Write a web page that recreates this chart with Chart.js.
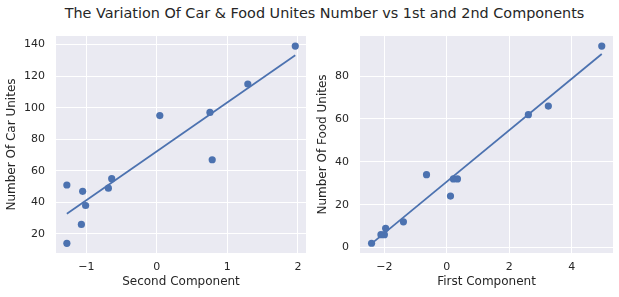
<!DOCTYPE html>
<html>
<head>
<meta charset="utf-8">
<script src="https://cdn.jsdelivr.net/npm/chart.js@4/dist/chart.umd.min.js"></script>
<style>
  html, body { margin: 0; padding: 0; background: #ffffff; }
  body { width: 619px; height: 297px; position: relative; overflow: hidden; font-family: "DejaVu Sans", sans-serif; }
  #title { position: absolute; top: 5px; left: 324.5px; transform: translateX(-50%); white-space: nowrap;
           font-size: 14.4px; line-height: 17px; color: #262626; }
  canvas { position: absolute; top: 0; }
  #c1 { left: 0; }
  #c2 { left: 310px; }
</style>
</head>
<body>
<div id="title">The Variation Of Car &amp; Food Unites Number vs 1st and 2nd Components</div>
<canvas id="c1" width="310" height="297"></canvas>
<canvas id="c2" width="309" height="297"></canvas>
<script>
// ---- data ----
const carX = [-1.276, -1.276, -1.052, -1.07, -1.01, -0.687, -0.64, 0.042, 0.753, 0.785, 1.29, 1.963];
const carY = [51, 14, 47, 26, 38, 49, 55, 95, 97, 67, 115, 139];
const carFitX = [-1.276, 1.963];
const carFitY = [32.8, 133.2];

const foodX = [-2.41, -2.11, -2.0, -1.96, -1.39, -0.65, 0.117, 0.21, 0.34, 2.61, 3.25, 4.96];
const foodY = [2, 6, 6, 9, 12, 34, 24, 32, 32, 62, 66, 94];
const foodFitX = [-2.41, 4.96];
const foodFitY = [1.8, 90.3];

const carXTicks = [-1, 0, 1, 2];
const carYTicks = [20, 40, 60, 80, 100, 120, 140];
const foodXTicks = [-2, 0, 2, 4];
const foodYTicks = [0, 20, 40, 60, 80];

const carXLabel = 'Second Component';
const carYLabel = 'Number Of Car Unites';
const foodXLabel = 'First Component';
const foodYLabel = 'Number Of Food Unites';

// ---- styling ----
const BLUE = '#4C72B0';
const TEXT = '#262626';
const FACE = '#EAEAF2';
const FONT = '"DejaVu Sans", sans-serif';

const facePlugin = {
  id: 'face',
  beforeDraw(chart) {
    const a = chart.chartArea, ctx = chart.ctx;
    ctx.save();
    ctx.fillStyle = FACE;
    ctx.fillRect(a.left, a.top, a.right - a.left, a.bottom - a.top);
    ctx.restore();
  }
};

function zip(xs, ys) { return xs.map((x, i) => ({ x: x, y: ys[i] })); }
function fmt(v) { return v < 0 ? '\u2212' + Math.abs(v) : String(v); }

function makeChart(id, xs, ys, fx, fy, xTicks, yTicks, xLabel, yLabel, xr, yr, yWidth, rightPad, yTitlePad) {
  return new Chart(document.getElementById(id), {
    type: 'scatter',
    data: {
      datasets: [
        { type: 'line', data: zip(fx, fy), borderColor: BLUE, borderWidth: 1.75, pointRadius: 0,
          fill: false, showLine: true, order: 0 },
        { data: zip(xs, ys), backgroundColor: BLUE, borderColor: BLUE, borderWidth: 0,
          pointRadius: 3.6, order: 1 }
      ]
    },
    options: {
      responsive: false,
      animation: false,
      devicePixelRatio: 1,
      layout: { padding: { top: 36, right: rightPad, left: 0, bottom: 0 } },
      plugins: { legend: { display: false }, tooltip: { enabled: false }, title: { display: false } },
      scales: {
        x: {
          type: 'linear', min: xr[0], max: xr[1],
          afterBuildTicks(s) { s.ticks = xTicks.map(v => ({ value: v })); },
          afterFit(s) { s.height = 44; },
          grid: { color: '#ffffff', lineWidth: 1, drawTicks: false },
          border: { display: false },
          ticks: { padding: 8, color: TEXT, font: { family: FONT, size: 11 }, callback: v => fmt(v), maxRotation: 0 },
          title: { display: true, text: xLabel, color: TEXT, font: { family: FONT, size: 12 }, padding: { top: 0, bottom: 8 } }
        },
        y: {
          type: 'linear', min: yr[0], max: yr[1],
          afterBuildTicks(s) { s.ticks = yTicks.map(v => ({ value: v })); },
          afterFit(s) { s.width = yWidth; },
          grid: { color: '#ffffff', lineWidth: 1, drawTicks: false },
          border: { display: false },
          ticks: { padding: 11, color: TEXT, font: { family: FONT, size: 11 }, callback: v => fmt(v) },
          title: { display: true, text: yLabel, color: TEXT, font: { family: FONT, size: 12 }, padding: { top: yTitlePad, bottom: 0 } }
        }
      }
    },
    plugins: [facePlugin]
  });
}

makeChart('c1', carX, carY, carFitX, carFitY, carXTicks, carYTicks, carXLabel, carYLabel,
          [-1.43, 2.115], [7.9, 145.4], 56, 3, 5);
makeChart('c2', foodX, foodY, foodFitX, foodFitY, foodXTicks, foodYTicks, foodXLabel, foodYLabel,
          [-2.78, 5.32], [-2.55, 98.7], 50, 6, 6);
</script>
</body>
</html>
